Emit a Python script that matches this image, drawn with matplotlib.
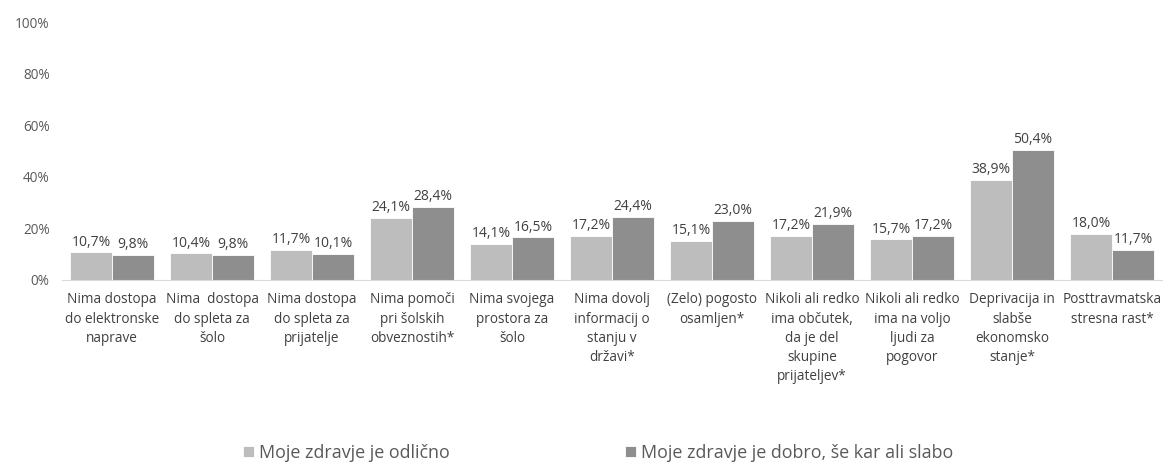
import matplotlib
matplotlib.use("Agg")
import matplotlib.pyplot as plt
import numpy as np

plt.rcParams['font.family'] = ['Open Sans', 'DejaVu Sans']

categories = [
    "Nima dostopa\ndo elektronske\nnaprave",
    "Nima  dostopa\ndo spleta za\nšolo",
    "Nima dostopa\ndo spleta za\nprijatelje",
    "Nima pomoči\npri šolskih\nobveznostih*",
    "Nima svojega\nprostora za\nšolo",
    "Nima dovolj\ninformacij o\nstanju v\ndržavi*",
    "(Zelo) pogosto\nosamljen*",
    "Nikoli ali redko\nima občutek,\nda je del\nskupine\nprijateljev*",
    "Nikoli ali redko\nima na voljo\nljudi za\npogovor",
    "Deprivacija in\nslabše\nekonomsko\nstanje*",
    "Posttravmatska\nstresna rast*",
]
odlicno = [10.7, 10.4, 11.7, 24.1, 14.1, 17.2, 15.1, 17.2, 15.7, 38.9, 18.0]
slabo = [9.8, 9.8, 10.1, 28.4, 16.5, 24.4, 23.0, 21.9, 17.2, 50.4, 11.7]
series_names = ["Moje zdravje je odlično", "Moje zdravje je dobro, še kar ali slabo"]

light = "#bdbdbd"
dark = "#8e8e8e"
txt = "#595959"

fig = plt.figure(figsize=(11.64, 4.62), dpi=100)
ax = fig.add_axes([0.0533, 0.394, 0.945, 0.558])

x = np.arange(len(categories))
w = 0.42
b1 = ax.bar(x - w / 2, odlicno, w, color=light, edgecolor="white", linewidth=0.6, label=series_names[0])
b2 = ax.bar(x + w / 2, slabo, w, color=dark, edgecolor="white", linewidth=0.6, label=series_names[1])

for bars, vals in ((b1, odlicno), (b2, slabo)):
    for r, v in zip(bars, vals):
        ax.text(r.get_x() + r.get_width() / 2, v + 1.0, f"{v:.1f}%".replace(".", ","),
                ha="center", va="bottom", fontsize=10, color="#404040")

ax.set_xlim(-0.5, len(categories) - 0.5)
ax.set_ylim(0, 100)
ax.set_yticks(range(0, 101, 20))
ax.set_yticklabels([f"{t}%" for t in range(0, 101, 20)], fontsize=9.8, color=txt)
ax.set_xticks(x)
ax.set_xticklabels(categories, fontsize=9.8, color="#404040", linespacing=1.38, va="top")
ax.tick_params(axis="both", length=0)
ax.tick_params(axis="x", pad=9)
ax.tick_params(axis="y", pad=9)
for s in ("top", "right", "left"):
    ax.spines[s].set_visible(False)
ax.spines["bottom"].set_color("#d9d9d9")

fig.legend(handles=[b1, b2], labels=series_names, loc="center", bbox_to_anchor=(0.514, 0.02),
           ncol=2, frameon=False, fontsize=12.9, labelcolor=txt, handlelength=0.6,
           handleheight=0.6, handletextpad=0.3, columnspacing=9.8)

fig.savefig("out.png", dpi=100)
